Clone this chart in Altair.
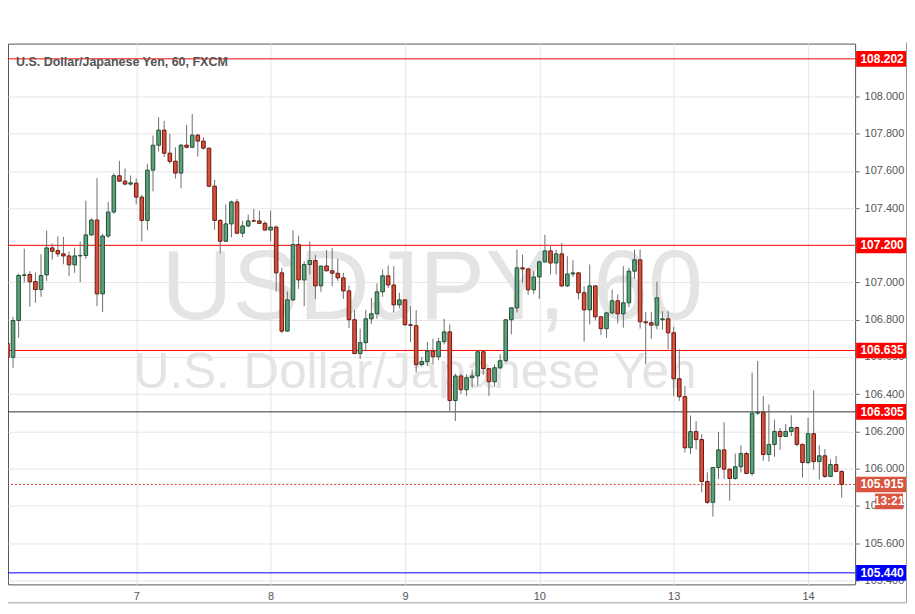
import altair as alt
import pandas as pd

# ---- candle data (hourly), days shown on the x axis ----
days = ["6", "7", "8", "9", "10", "13", "14"]
day_first_hour = [1, 0, 0, 0, 0, 0, 0]
day_last_hour = [23, 23, 23, 23, 23, 23, 6]

opens = [
    # 6
    106.673, 106.598, 106.796, 107.038, 107.043, 107.005, 106.962, 107.041, 107.186, 107.172, 107.154, 107.143,
    107.095, 107.143, 107.145, 107.256, 107.336, 106.939, 107.250, 107.379, 107.574, 107.545, 107.529,
    # 7
    107.534, 107.459, 107.334, 107.604, 107.738, 107.819, 107.695, 107.652, 107.588, 107.738, 107.727, 107.792,
    107.760, 107.722, 107.518, 107.334, 107.222, 107.315, 107.433, 107.265, 107.304, 107.332, 107.331, 107.318,
    # 8
    107.282, 107.298, 107.052, 106.739, 106.907, 107.204, 107.014, 107.097, 107.118, 106.982, 107.089, 107.063,
    107.050, 107.025, 106.955, 106.800, 106.618, 106.677, 106.805, 106.832, 106.950, 107.036, 106.987, 106.880,
    # 9
    106.907, 106.773, 106.768, 106.559, 106.575, 106.632, 106.601, 106.682, 106.735, 106.366, 106.498, 106.424,
    106.489, 106.498, 106.628, 106.537, 106.467, 106.542, 106.580, 106.800, 106.864, 107.079, 107.073, 106.961,
    # 10
    107.030, 107.111, 107.170, 107.105, 107.154, 106.982, 107.046, 107.052, 106.945, 106.853, 106.982, 106.816,
    106.752, 106.837, 106.902, 106.832, 106.891, 107.061, 107.122, 106.789, 106.784, 106.771, 106.800, 106.805,
    # 13
    106.730, 106.483, 106.387, 106.112, 106.199, 106.156, 105.931, 105.819, 106.006, 106.101, 105.997, 105.947,
    106.010, 106.081, 105.974, 106.298, 106.303, 106.076, 106.130, 106.200, 106.173, 106.200, 106.221, 106.130,
    # 14
    106.033, 106.188, 106.038, 106.069, 105.958, 106.022, 105.985,
]
highs = [
    106.870, 106.816, 107.048, 107.182, 107.061, 107.054, 107.152, 107.279, 107.209, 107.248, 107.245, 107.166,
    107.188, 107.220, 107.440, 107.345, 107.561, 107.262, 107.433, 107.587, 107.654, 107.613, 107.575,
    107.560, 107.470, 107.638, 107.790, 107.888, 107.869, 107.799, 107.727, 107.745, 107.847, 107.906, 107.799,
    107.780, 107.725, 107.551, 107.340, 107.418, 107.440, 107.449, 107.332, 107.365, 107.395, 107.386, 107.329,
    107.386, 107.307, 107.079, 106.952, 107.281, 107.252, 107.114, 107.220, 107.148, 107.089, 107.175, 107.186,
    107.127, 107.052, 106.984, 106.853, 106.752, 106.853, 106.918, 106.995, 107.070, 107.091, 107.088, 106.945,
    106.910, 106.873, 106.852, 106.600, 106.680, 106.698, 106.703, 106.805, 106.775, 106.510, 106.510, 106.507,
    106.533, 106.635, 106.635, 106.540, 106.560, 106.614, 106.800, 106.864, 107.177, 107.150, 107.075, 107.061,
    107.118, 107.257, 107.195, 107.176, 107.213, 107.141, 107.120, 107.055, 106.980, 107.097, 106.985, 106.820,
    106.837, 106.962, 106.936, 107.088, 107.079, 107.177, 107.177, 106.841, 106.841, 107.004, 106.846, 106.846,
    106.762, 106.641, 106.444, 106.285, 106.256, 106.185, 105.980, 106.006, 106.197, 106.249, 106.000, 106.081,
    106.125, 106.090, 106.516, 106.578, 106.390, 106.345, 106.263, 106.218, 106.239, 106.287, 106.225, 106.135,
    106.274, 106.421, 106.126, 106.105, 106.050, 106.069, 105.990,
]
lows = [
    106.525, 106.542, 106.703, 107.000, 106.870, 106.891, 106.923, 107.009, 107.123, 107.138, 107.098, 107.034,
    107.052, 107.002, 107.127, 107.250, 106.873, 106.841, 107.240, 107.370, 107.540, 107.522, 107.520,
    107.420, 107.222, 107.281, 107.490, 107.704, 107.674, 107.638, 107.559, 107.506, 107.720, 107.722, 107.677,
    107.715, 107.511, 107.284, 107.157, 107.218, 107.243, 107.260, 107.243, 107.297, 107.325, 107.315, 107.280,
    107.222, 106.952, 106.728, 106.735, 106.900, 106.966, 106.873, 107.043, 106.911, 106.950, 107.060, 106.980,
    107.009, 106.912, 106.755, 106.618, 106.589, 106.635, 106.777, 106.805, 106.923, 106.971, 106.839, 106.862,
    106.768, 106.680, 106.516, 106.548, 106.551, 106.560, 106.582, 106.668, 106.310, 106.256, 106.401, 106.391,
    106.436, 106.446, 106.505, 106.391, 106.440, 106.535, 106.569, 106.721, 106.840, 106.998, 106.934, 106.939,
    106.912, 107.105, 107.043, 107.043, 106.975, 106.975, 107.030, 106.909, 106.682, 106.775, 106.796, 106.718,
    106.703, 106.830, 106.780, 106.757, 106.868, 107.020, 106.752, 106.560, 106.698, 106.748, 106.748, 106.641,
    106.391, 106.364, 106.087, 106.078, 106.103, 105.872, 105.810, 105.742, 105.944, 105.944, 105.828, 105.940,
    105.980, 105.970, 105.961, 106.290, 106.042, 106.038, 106.063, 106.101, 106.170, 106.175, 106.120, 105.952,
    106.024, 105.994, 105.941, 105.950, 105.955, 105.980, 105.844,
]
closes = [
    106.598, 106.796, 107.038, 107.041, 107.004, 106.962, 107.038, 107.186, 107.168, 107.154, 107.143, 107.095,
    107.143, 107.145, 107.256, 107.336, 106.939, 107.250, 107.379, 107.574, 107.545, 107.529, 107.536,
    107.459, 107.334, 107.604, 107.738, 107.819, 107.695, 107.651, 107.588, 107.738, 107.727, 107.792, 107.760,
    107.722, 107.518, 107.334, 107.222, 107.315, 107.433, 107.265, 107.304, 107.331, 107.330, 107.318, 107.282,
    107.298, 107.052, 106.739, 106.907, 107.204, 107.014, 107.097, 107.118, 106.982, 107.089, 107.063, 107.050,
    107.025, 106.955, 106.800, 106.618, 106.677, 106.805, 106.832, 106.950, 107.036, 106.987, 106.880, 106.907,
    106.773, 106.770, 106.559, 106.575, 106.632, 106.601, 106.682, 106.735, 106.366, 106.498, 106.424, 106.489,
    106.498, 106.628, 106.537, 106.467, 106.542, 106.580, 106.800, 106.864, 107.079, 107.073, 106.961, 107.030,
    107.111, 107.170, 107.105, 107.154, 106.982, 107.046, 107.052, 106.945, 106.853, 106.982, 106.816, 106.752,
    106.837, 106.902, 106.832, 106.891, 107.061, 107.122, 106.789, 106.784, 106.771, 106.918, 106.805, 106.730,
    106.483, 106.387, 106.112, 106.199, 106.156, 105.931, 105.819, 106.006, 106.101, 105.997, 105.947, 106.010,
    106.081, 105.974, 106.298, 106.303, 106.076, 106.130, 106.200, 106.173, 106.200, 106.221, 106.130, 106.033,
    106.188, 106.038, 106.069, 105.958, 106.022, 105.985, 105.915,
]

# ---- horizontal levels ----
level_vals = [108.202, 107.200, 106.635, 106.305, 105.440]
level_line_colors = ["#ff0000", "#ff0000", "#ff0000", "#333333", "#0000ff"]
level_box_colors = ["#ff0000", "#ff0000", "#ff0000", "#ff0000", "#0000ff"]
last_price = 105.915
timer_text = "13:21"

y_ticks = [105.4, 105.6, 105.8, 106.0, 106.2, 106.4, 106.6, 106.8, 107.0, 107.2, 107.4, 107.6, 107.8, 108.0]

# ---- build table ----
ts = []
for d, (h0, h1) in enumerate(zip(day_first_hour, day_last_hour)):
    for h in range(h0, h1 + 1):
        ts.append((d - 1) * 24 + h)
df = pd.DataFrame({"t": ts, "o": opens, "h": highs, "l": lows, "c": closes})

day_pos = [(d - 1) * 24 for d in range(1, len(days))]
day_lab = days[1:]
label_expr = "{" + ",".join(f"'{p}':'{l}'" for p, l in zip(day_pos, day_lab)) + "}[datum.value]"

W, H = 849, 542
xsc = alt.Scale(domain=[-22.9, 128.4], nice=False, zero=False, padding=0)
ysc = alt.Scale(domain=[105.378, 108.284], nice=False, zero=False, padding=0)
xaxis = alt.Axis(values=day_pos, labelExpr=label_expr, grid=True, gridColor="#e6e6e6", domain=False,
                 ticks=False, labelPadding=6, labelColor="#555555", labelFontSize=11,
                 labelFont="Liberation Sans", title=None)
yaxis = alt.Axis(orient="right", values=y_ticks, format=".3f", grid=True, gridColor="#e6e6e6",
                 domain=False, tickSize=4, tickColor="#666666", labelPadding=5,
                 labelColor="#555555", labelFontSize=11, labelFont="Liberation Sans", title=None)

one = pd.DataFrame({"k": [0]})

watermark1 = alt.Chart(one).mark_text(font="Liberation Sans", fontSize=99, color="#e4e4e4",
                                      align="center", baseline="alphabetic").encode(
    x=alt.value(425), y=alt.value(276), text=alt.value("USDJPY, 60"))
watermark2 = alt.Chart(one).mark_text(font="Liberation Sans", fontSize=49.5, color="#e4e4e4",
                                      align="center", baseline="alphabetic").encode(
    x=alt.value(408), y=alt.value(345), text=alt.value("U.S. Dollar/Japanese Yen"))

lv_df = pd.DataFrame({"lvl": level_vals, "lc": level_line_colors, "bc": level_box_colors,
                      "lab": [f"{v:.3f}" for v in level_vals]})
level_lines = alt.Chart(lv_df).mark_rule(strokeWidth=1).encode(
    y=alt.Y("lvl:Q", scale=ysc, axis=yaxis), color=alt.Color("lc:N", scale=None))

last_df = pd.DataFrame({"lvl": [last_price], "lab": [f"{last_price:.3f}"], "tm": [timer_text]})
last_line = alt.Chart(last_df).mark_rule(strokeWidth=1, color="#e0392b", strokeDash=[2, 2]).encode(
    y=alt.Y("lvl:Q", scale=ysc, axis=yaxis))

green_fill, green_stroke = "#5fa07c", "#1f5035"
red_fill, red_stroke = "#d6503b", "#6a1a10"

wicks = alt.Chart(df).mark_rule(color="#6e6e6e", strokeWidth=1).encode(
    x=alt.X("t:Q", scale=xsc, axis=xaxis),
    y=alt.Y("l:Q", scale=ysc, axis=yaxis), y2="h:Q")
bodies = alt.Chart(df).mark_bar(size=3.6, strokeWidth=1).encode(
    x=alt.X("t:Q", scale=xsc, axis=xaxis),
    y=alt.Y("o:Q", scale=ysc, axis=yaxis), y2="c:Q",
    fill=alt.condition("datum.c >= datum.o", alt.value(green_fill), alt.value(red_fill)),
    stroke=alt.condition("datum.c >= datum.o", alt.value(green_stroke), alt.value(red_stroke)))

title_txt = alt.Chart(one).mark_text(font="Liberation Sans", fontSize=12.5, fontWeight="bold",
                                     color="#555555", align="left", baseline="alphabetic").encode(
    x=alt.value(8), y=alt.value(22), text=alt.value("U.S. Dollar/Japanese Yen, 60, FXCM"))

boxes = alt.Chart(lv_df).transform_calculate(
    top="datum.lvl + 0.042", bot="datum.lvl - 0.042").mark_rect().encode(
    x=alt.value(850), x2=alt.value(900),
    y=alt.Y("top:Q", scale=ysc, axis=yaxis), y2="bot:Q", color=alt.Color("bc:N", scale=None))
box_text = alt.Chart(lv_df).mark_text(font="Liberation Sans", fontSize=12, fontWeight="bold",
                                      color="white", align="center", baseline="middle").encode(
    x=alt.value(876), y=alt.Y("lvl:Q", scale=ysc, axis=yaxis), text="lab:N")

last_box = alt.Chart(last_df).transform_calculate(
    top="datum.lvl + 0.042", bot="datum.lvl - 0.042").mark_rect(color="#d9553f").encode(
    x=alt.value(850), x2=alt.value(900),
    y=alt.Y("top:Q", scale=ysc, axis=yaxis), y2="bot:Q")
last_text = alt.Chart(last_df).mark_text(font="Liberation Sans", fontSize=12, fontWeight="bold",
                                         color="white", align="center", baseline="middle").encode(
    x=alt.value(876), y=alt.Y("lvl:Q", scale=ysc, axis=yaxis), text="lab:N")
timer_box = alt.Chart(last_df).transform_calculate(
    top="datum.lvl + 0.042", bot="datum.lvl - 0.042").mark_rect(
    color="#d9553f", yOffset=17, y2Offset=17).encode(
    x=alt.value(869), x2=alt.value(897),
    y=alt.Y("top:Q", scale=ysc, axis=yaxis), y2="bot:Q")
timer_txt = alt.Chart(last_df).mark_text(font="Liberation Sans", fontSize=12, fontWeight="bold",
                                         color="white", align="center", baseline="middle", dy=17).encode(
    x=alt.value(883), y=alt.Y("lvl:Q", scale=ysc, axis=yaxis), text="tm:N")

frame_r = alt.Chart(one).mark_rule(color="#999999", strokeWidth=1).encode(
    x=alt.value(900.5), y=alt.value(-1), y2=alt.value(560))
frame_b = alt.Chart(one).mark_rule(color="#999999", strokeWidth=1).encode(
    x=alt.value(0), x2=alt.value(900.5), y=alt.value(560.5))

chart = alt.layer(
    watermark1, watermark2, level_lines, last_line, wicks, bodies, title_txt,
    boxes, box_text, last_box, last_text, timer_box, timer_txt, frame_r, frame_b
).properties(
    width=W, height=H,
    autosize=alt.AutoSizeParams(type="none"),
    padding={"left": 0, "top": 35, "right": 52, "bottom": 20},
    background="white",
).configure_view(stroke="#555555", strokeWidth=1)

chart.save("out.html", embed_options={"renderer": "svg", "actions": False})
